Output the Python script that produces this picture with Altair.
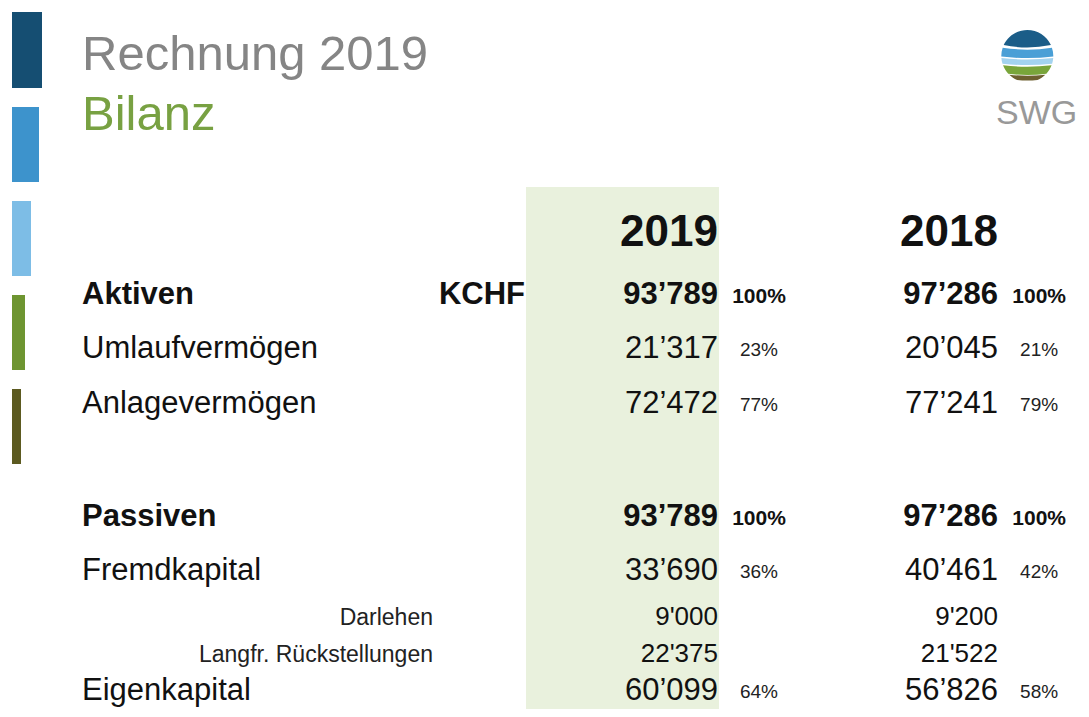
import altair as alt
import pandas as pd

# ---------------- data ----------------
title_main = "Rechnung 2019"
title_sub = "Bilanz"
logo_text = "SWG"
unit = "KCHF"
years = ["2019", "2018"]
categories = ["Aktiven", "Umlaufvermögen", "Anlagevermögen", "Passiven",
              "Fremdkapital", "Darlehen", "Langfr. Rückstellungen", "Eigenkapital"]
row_kind = ["total", "main", "main", "total", "main", "sub", "sub", "main"]
values_2019 = [93789, 21317, 72472, 93789, 33690, 9000, 22375, 60099]
values_2018 = [97286, 20045, 77241, 97286, 40461, 9200, 21522, 56826]
pct_2019 = [100, 23, 77, 100, 36, None, None, 64]
pct_2018 = [100, 21, 79, 100, 42, None, None, 58]

# ---------------- layout (pixels) ----------------
row_baseline = [304, 358, 413, 526, 580, 625, 662, 710]
X_LABEL, X_SUBLABEL, X_UNIT = 82, 433, 525
X_VAL = {"2019": 718, "2018": 998}
X_PCT = {"2019": 759, "2018": 1043}
FONT = "Liberation Sans"


def fmt(v, kind):
    s = f"{v:,}"
    return s.replace(",", "'" if kind == "sub" else "\u2019")


rows = []
for i, c in enumerate(categories):
    for y, vals, pcts in (("2019", values_2019, pct_2019), ("2018", values_2018, pct_2018)):
        rows.append(dict(cat=c, kind=row_kind[i], year=y, yb=row_baseline[i],
                         val=fmt(vals[i], row_kind[i]), xv=X_VAL[y],
                         pct=(f"{pcts[i]}%" if pcts[i] is not None else ""),
                         xp=X_PCT[y]))
cells = pd.DataFrame(rows)
labels = pd.DataFrame(dict(cat=categories, kind=row_kind, yb=row_baseline))

# page coordinates -> chart coordinates (8px page margin; edges gently compressed to fit)
XS = alt.Scale(domain=[8, 1000, 1089], range=[0, 992, 1073], nice=False, zero=False)
YS = alt.Scale(domain=[8, 662, 710, 717], range=[0, 654, 692, 701], nice=False, zero=False)


def X(f):
    return alt.X(f, type="quantitative", scale=XS, axis=None)


def Y(f):
    return alt.Y(f, type="quantitative", scale=YS, axis=None)


def text_layer(df, xf, yf, tf, align, size, weight="normal", color="#111111", font=FONT, dy=0):
    return alt.Chart(df).mark_text(align=align, baseline="alphabetic", fontSize=size,
                                   fontWeight=weight, color=color, font=font, dy=dy).encode(
        x=X(xf), y=Y(yf), text=alt.Text(tf, type="nominal"))


# decorative left bars
bars = pd.DataFrame(dict(
    x0=[12, 12, 12, 12, 12], x1=[42, 39, 31, 25, 21],
    y0=[12, 107, 201, 295, 389], y1=[88, 182, 276, 370, 464],
    col=["#154e72", "#3d93cc", "#7dbde6", "#6e9531", "#5c5a20"]))
bar_layer = alt.Chart(bars).mark_rect().encode(
    x=X("x0"), x2="x1", y=Y("y0"), y2="y1", color=alt.Color("col:N", scale=None))

# green highlight column
band = pd.DataFrame(dict(x0=[526], x1=[719], y0=[187], y1=[717]))
band_layer = alt.Chart(band).mark_rect(color="#e9f1dd").encode(
    x=X("x0"), x2="x1", y=Y("y0"), y2="y1")


# logo (circle made of wavy bands)
def band_path(y1, y2, w1, w2):
    import math
    def hx(y):
        return math.sqrt(max(0.0, 1 - y * y))
    x1, x2 = hx(y1), hx(y2)
    if y1 <= -0.999:
        top = "M0,-1"
        start = "0,-1"
    else:
        top = f"M{-x1:.3f},{y1:.3f}Q0,{y1 + w1:.3f} {x1:.3f},{y1:.3f}"
        start = f"{-x1:.3f},{y1:.3f}"
    if y2 >= 0.999:
        p = top + f"A1,1 0 0,1 0,1A1,1 0 0,1 {start}Z"
    else:
        p = (top + f"A1,1 0 0,1 {x2:.3f},{y2:.3f}"
             f"Q0,{y2 + w2:.3f} {-x2:.3f},{y2:.3f}A1,1 0 0,1 {start}Z")
    return p


logo = pd.DataFrame(dict(
    x=[1030] * 5, y=[56] * 5,
    shape=[band_path(-1, -0.42, 0, 0.18), band_path(-0.32, 0.02, 0.15, 0.12),
           band_path(0.08, 0.3, 0.1, 0.1), band_path(0.36, 0.68, 0.1, 0.1),
           band_path(0.72, 0.92, 0.08, 0.05)],
    col=["#1b5d88", "#4a9fd6", "#a3d3ef", "#79a53a", "#6e6030"]))
logo_layer = alt.Chart(logo).mark_point(filled=True, opacity=1, strokeWidth=0, size=2704).encode(
    x=X("x"), y=Y("y"), shape=alt.Shape("shape:N", scale=None),
    color=alt.Color("col:N", scale=None))

titles = pd.DataFrame(dict(t=[title_main], x=[82], y=[70]))
subt = pd.DataFrame(dict(t=[title_sub], x=[82], y=[130]))
swg = pd.DataFrame(dict(t=[logo_text], x=[996], y=[124]))
heads = pd.DataFrame(dict(t=years, x=[X_VAL[y] for y in years], y=[246, 246]))
unit_df = pd.DataFrame(dict(t=[unit], x=[X_UNIT], y=[row_baseline[0]]))

layers = [
    band_layer, bar_layer, logo_layer,
    text_layer(titles, "x", "y", "t", "left", 49, color="#858585"),
    text_layer(subt, "x", "y", "t", "left", 49, color="#78a142"),
    text_layer(swg, "x", "y", "t", "left", 34, color="#999999"),
    text_layer(heads, "x", "y", "t", "right", 44, "bold"),
    text_layer(unit_df, "x", "y", "t", "right", 31, "bold"),
    # row labels
    text_layer(labels[labels.kind == "total"].assign(x=X_LABEL), "x", "yb", "cat", "left", 31, "bold"),
    text_layer(labels[labels.kind == "main"].assign(x=X_LABEL), "x", "yb", "cat", "left", 31),
    text_layer(labels[labels.kind == "sub"].assign(x=X_SUBLABEL), "x", "yb", "cat", "right", 23, color="#222222"),
    # values
    text_layer(cells[cells.kind == "total"], "xv", "yb", "val", "right", 31, "bold"),
    text_layer(cells[cells.kind == "main"], "xv", "yb", "val", "right", 31),
    text_layer(cells[cells.kind == "sub"], "xv", "yb", "val", "right", 26),
    # percentages
    text_layer(cells[cells.kind == "total"], "xp", "yb", "pct", "center", 21, "bold", dy=-1),
    text_layer(cells[cells.kind == "main"], "xp", "yb", "pct", "center", 19, color="#222222", dy=-2),
]

chart = alt.layer(*layers).properties(
    width=1073, height=701, padding=0,
    autosize=alt.AutoSizeParams(type="none"),
    background="white",
).configure_view(stroke=None)

chart.save("out.html", embed_options={"renderer": "svg", "actions": False})
